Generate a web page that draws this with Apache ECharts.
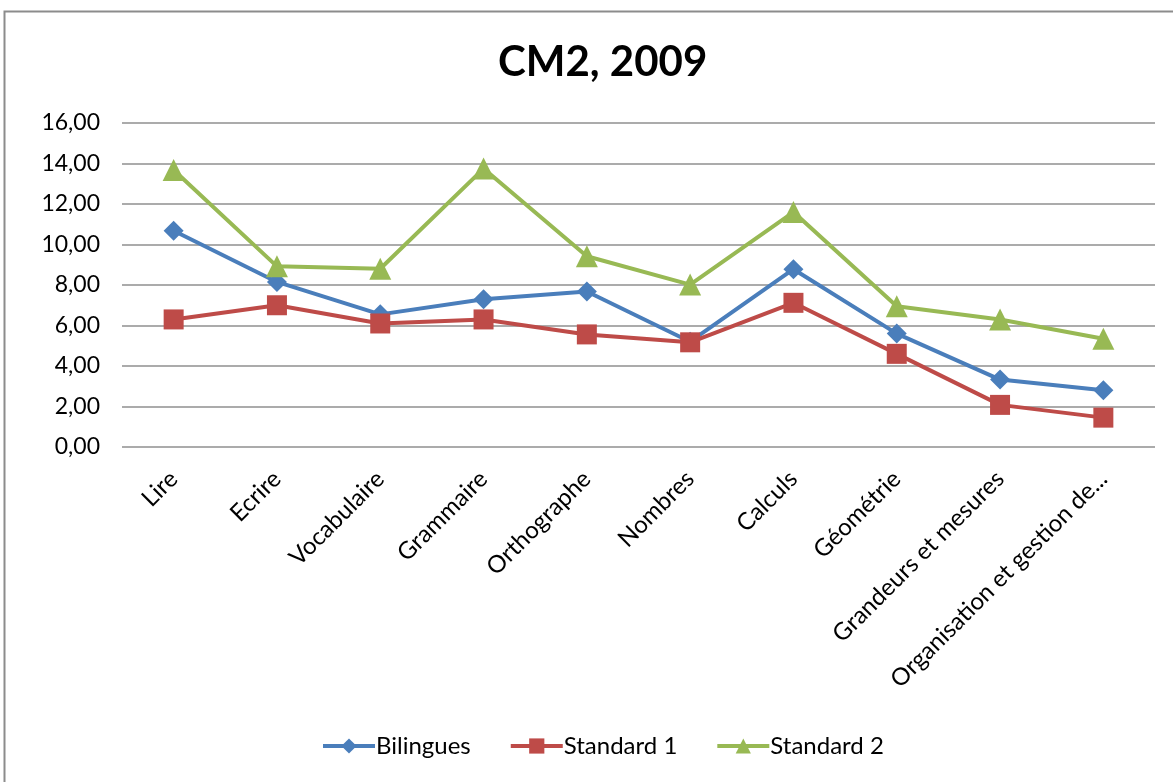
<!DOCTYPE html>
<html>
<head>
<meta charset="utf-8">
<script src="https://cdn.jsdelivr.net/npm/echarts@6/dist/echarts.min.js"></script>
<style>
  html, body { margin: 0; padding: 0; background: #fff; }
  #chart { width: 1173px; height: 782px; }
</style>
</head>
<body>
<div id="chart"></div>
<script>
const categories = ['Lire', 'Ecrire', 'Vocabulaire', 'Grammaire', 'Orthographe', 'Nombres',
    'Calculs', 'Géométrie', 'Grandeurs et mesures', 'Organisation et gestion de...'];
const bilingues = [10.68, 8.15, 6.55, 7.3, 7.68, 5.2, 8.78, 5.6, 3.33, 2.8];
const standard1 = [6.3, 7.0, 6.1, 6.3, 5.56, 5.17, 7.12, 4.6, 2.08, 1.45];
const standard2 = [13.68, 8.92, 8.8, 13.75, 9.42, 8.02, 11.6, 6.95, 6.3, 5.35];

const font = 'Lato';

const chart = echarts.init(document.getElementById('chart'));

const mkSeries = (name, data, color, symbol, size) => ({
    name: name,
    type: 'line',
    data: data,
    symbol: symbol,
    symbolSize: size,
    lineStyle: { color: color, width: 4 },
    itemStyle: { color: color },
    emphasis: { disabled: true }
});

chart.setOption({
    animation: false,
    title: {
        text: 'CM2, 2009',
        left: 493,
        top: 36,
        textStyle: { fontFamily: font, fontSize: 42, fontWeight: 'bold', color: '#000' }
    },
    graphic: [{
        type: 'rect',
        shape: { x: 4.5, y: 11.5, width: 1180, height: 800 },
        style: { fill: null, stroke: '#8c8c8c', lineWidth: 2 }
    }],
    legend: {
        bottom: 19,
        left: 316,
        itemWidth: 52,
        itemHeight: 19,
        itemGap: 38,
        lineStyle: { width: 4 },
        textStyle: { fontFamily: font, fontSize: 24, color: '#000', padding: [0, 0, 0, -4] },
        data: ['Bilingues', 'Standard 1', 'Standard 2']
    },
    grid: { left: 122, right: 18, top: 123, bottom: 335 },
    xAxis: {
        type: 'category',
        data: categories,
        axisLine: { show: false },
        axisTick: { show: false },
        axisLabel: {
            rotate: 45,
            interval: 0,
            margin: 28,
            fontFamily: font,
            fontSize: 24,
            color: '#000'
        }
    },
    yAxis: {
        type: 'value',
        min: 0,
        max: 16,
        interval: 2,
        axisLine: { show: false },
        axisTick: { show: false },
        splitLine: { lineStyle: { color: '#8f8f8f', width: 1.5 } },
        axisLabel: {
            margin: 22,
            fontFamily: font,
            fontSize: 23,
            color: '#000',
            formatter: v => v.toFixed(2).replace('.', ',')
        }
    },
    series: [
        mkSeries('Bilingues', bilingues, '#4a7ebb', 'diamond', 20),
        mkSeries('Standard 1', standard1, '#be4b48', 'rect', 20),
        mkSeries('Standard 2', standard2, '#98b954', 'triangle', 22)
    ]
});
</script>
</body>
</html>
